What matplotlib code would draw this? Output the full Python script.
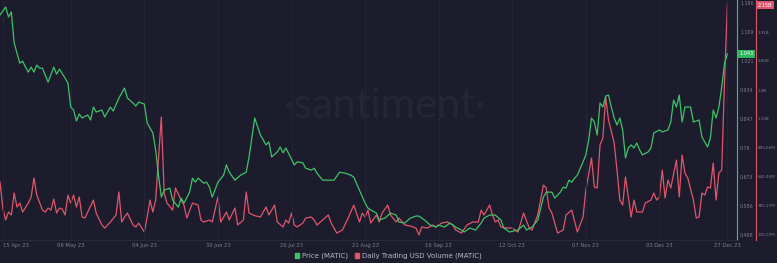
import matplotlib.pyplot as plt
import matplotlib.dates as mdates
from matplotlib.patches import Patch
import pandas as pd

start = pd.Timestamp('2023-04-14')

# price (USD), day offsets from start
price_day = [0, 2, 3, 4, 5, 7, 8, 9, 10, 11, 12, 13, 14, 15, 17, 19, 20, 21, 23, 24,
             25, 26, 27, 28, 29, 31, 32, 33, 34, 36, 37, 39, 40, 42, 44, 45, 47, 48, 49, 51,
             52, 53, 54, 55, 56, 57, 58, 60, 61, 63, 64, 65, 67, 68, 69, 70, 72, 73, 74, 75,
             77, 79, 80, 81, 83, 85, 87, 88, 90, 92, 94, 95, 96, 98, 99, 100, 101, 104, 105, 107,
             108, 110, 111, 112, 114, 117, 118, 120, 122, 124, 125, 127, 129, 130, 131, 133, 134, 136, 138, 140,
             141, 143, 145, 147, 148, 150, 152, 154, 155, 157, 159, 161, 163, 164, 166, 168, 170, 171, 173, 175,
             177, 178, 180, 183, 185, 186, 188, 190, 192, 193, 195, 196, 198, 199, 200, 201, 202, 203, 204, 206,
             207, 208, 209, 210, 211, 212, 213, 214, 215, 216, 217, 218, 219, 220, 221, 222, 223, 224, 225, 226,
             227, 229, 230, 231, 233, 234, 236, 237, 238, 239, 240, 241, 242, 244, 245, 247, 248, 250, 251, 252,
             253, 254, 255, 256, 257]
price = [1.160, 1.184, 1.154, 1.169, 1.076, 1.015, 1.021, 1.003, 0.988, 1.003, 0.988, 1.009, 1.000, 1.000, 0.958, 1.003, 0.982, 0.997, 0.970, 0.955,
         0.883, 0.874, 0.841, 0.862, 0.850, 0.859, 0.844, 0.883, 0.868, 0.874, 0.853, 0.883, 0.871, 0.910, 0.940, 0.910, 0.895, 0.886, 0.898, 0.892,
         0.835, 0.820, 0.805, 0.754, 0.678, 0.612, 0.633, 0.639, 0.603, 0.582, 0.609, 0.594, 0.627, 0.669, 0.657, 0.669, 0.654, 0.657, 0.642, 0.612,
         0.657, 0.678, 0.709, 0.687, 0.663, 0.678, 0.687, 0.733, 0.850, 0.799, 0.769, 0.778, 0.733, 0.748, 0.763, 0.745, 0.760, 0.709, 0.718, 0.715,
         0.699, 0.693, 0.699, 0.684, 0.663, 0.663, 0.663, 0.687, 0.684, 0.678, 0.672, 0.633, 0.594, 0.579, 0.573, 0.564, 0.543, 0.549, 0.564, 0.558,
         0.537, 0.534, 0.549, 0.555, 0.555, 0.543, 0.528, 0.522, 0.528, 0.522, 0.534, 0.522, 0.513, 0.507, 0.519, 0.513, 0.534, 0.549, 0.558, 0.558,
         0.543, 0.519, 0.507, 0.513, 0.528, 0.513, 0.522, 0.543, 0.612, 0.627, 0.627, 0.609, 0.627, 0.642, 0.639, 0.663, 0.657, 0.669, 0.678, 0.718,
         0.739, 0.784, 0.850, 0.838, 0.799, 0.895, 0.883, 0.916, 0.919, 0.883, 0.850, 0.829, 0.850, 0.814, 0.730, 0.760, 0.769, 0.760, 0.775, 0.754,
         0.739, 0.748, 0.760, 0.805, 0.814, 0.808, 0.814, 0.838, 0.904, 0.883, 0.919, 0.838, 0.883, 0.883, 0.838, 0.844, 0.793, 0.763, 0.790, 0.874,
         0.850, 0.883, 0.943, 1.015, 1.043]

# daily trading volume (million USD)
vol_day = [0, 1, 2, 3, 4, 5, 6, 7, 8, 10, 11, 12, 13, 15, 16, 17, 18, 19, 20, 21,
           22, 23, 24, 25, 26, 27, 28, 29, 30, 31, 33, 34, 36, 37, 39, 41, 42, 43, 44, 45,
           47, 48, 49, 51, 52, 53, 54, 55, 57, 58, 59, 61, 62, 64, 65, 66, 68, 70, 71, 72,
           74, 75, 77, 78, 80, 81, 83, 84, 86, 87, 88, 90, 92, 94, 95, 96, 97, 98, 100, 101,
           102, 103, 104, 105, 107, 108, 110, 111, 112, 114, 116, 117, 119, 121, 123, 125, 127, 128, 129, 130,
           131, 133, 134, 135, 137, 138, 140, 141, 143, 145, 147, 148, 149, 151, 153, 154, 156, 158, 160, 161,
           163, 165, 167, 169, 170, 171, 172, 173, 174, 175, 176, 177, 179, 181, 183, 185, 187, 188, 190, 192,
           193, 194, 195, 197, 199, 200, 202, 204, 206, 207, 209, 210, 211, 212, 213, 214, 215, 217, 218, 219,
           220, 221, 222, 223, 224, 225, 227, 228, 230, 231, 232, 233, 234, 235, 236, 237, 239, 240, 241, 242,
           243, 245, 246, 247, 248, 249, 250, 251, 252, 253, 254, 255, 256, 257]
volume_m = [596, 367, 262, 332, 306, 499, 376, 411, 332, 411, 464, 631, 481, 349, 332, 367, 349, 446, 323, 367,
            358, 306, 481, 411, 481, 376, 464, 288, 279, 332, 437, 323, 218, 191, 244, 306, 508, 244, 288, 323,
            218, 200, 235, 156, 288, 437, 332, 437, 1167, 499, 411, 349, 543, 437, 393, 279, 411, 393, 262, 244,
            262, 244, 464, 244, 332, 262, 367, 218, 262, 508, 323, 300, 288, 376, 306, 349, 393, 244, 200, 262,
            235, 323, 218, 200, 235, 279, 288, 262, 218, 262, 306, 235, 147, 174, 279, 393, 244, 323, 288, 349,
            235, 306, 244, 323, 393, 306, 244, 279, 218, 209, 191, 130, 200, 191, 218, 200, 235, 244, 218, 174,
            147, 218, 244, 244, 349, 306, 349, 393, 306, 244, 262, 200, 191, 191, 156, 323, 191, 174, 306, 569,
            543, 367, 323, 147, 174, 306, 349, 156, 288, 525, 807, 552, 543, 921, 983, 1343, 1141, 939, 701, 437,
            393, 640, 464, 288, 437, 332, 332, 411, 437, 499, 437, 464, 701, 455, 613, 543, 789, 464, 833, 675,
            631, 437, 279, 288, 499, 481, 552, 543, 763, 437, 675, 701, 1490, 2152]

price_ticks = [0.498, 0.586, 0.673, 0.76, 0.847, 0.934, 1.021, 1.109, 1.196]
price_tick_labels = ['0.498', '0.586', '0.673', '0.76', '0.847', '0.934', '1.021', '1.109', '1.196']
vol_ticks_m = [130.07, 385.27, 640.46, 895.66, 1150, 1400, 1660, 1910]
vol_tick_labels = ['130.07M', '385.27M', '640.46M', '895.66M', '1.15B', '1.4B', '1.66B', '1.91B']
date_ticks = ['2023-04-15', '2023-05-09', '2023-06-04', '2023-06-30', '2023-07-26', '2023-08-21',
              '2023-09-16', '2023-10-12', '2023-11-07', '2023-12-03', '2023-12-27']

bg = '#1c1c2c'
green = '#3ec368'
red = '#e0566c'
grey = '#7e7e90'

p_dates = start + pd.to_timedelta(price_day, unit='D')
v_dates = start + pd.to_timedelta(vol_day, unit='D')

fig = plt.figure(figsize=(7.77, 2.63), dpi=100, facecolor=bg)
ax = fig.add_axes([0, 23 / 263, 737 / 777, 240 / 263], facecolor=bg)
ax2 = ax.twinx()

ax.text(0.522, 0.56, '\u00b7santiment\u00b7', transform=ax.transAxes, fontsize=30,
        color='#252536', ha='center', va='center', family='Lato', zorder=0)

ax2.plot(v_dates, volume_m, color=red, lw=0.9, zorder=2)
ax.plot(p_dates, price, color=green, lw=0.9, zorder=3)
ax.set_zorder(ax2.get_zorder() + 1)
ax.patch.set_visible(False)
ax2.patch.set_visible(True)
ax2.patch.set_facecolor(bg)

ax.set_xlim(mdates.date2num(start), mdates.date2num(start + pd.Timedelta(days=260.4)))
ax.set_ylim(0.483, 1.205)
ax2.set_ylim(86, 2196)

ax.set_xticks(pd.to_datetime(date_ticks))
ax.set_xticklabels([pd.Timestamp(d).strftime('%d %b %y') for d in date_ticks])
ax.xaxis.grid(True, color='#26263a', lw=0.6)
ax.set_axisbelow(True)
ax.tick_params(axis='x', length=0, pad=2, labelsize=3.8, labelcolor=grey)
ax.get_xticklabels()[0].set_ha('left')

ax.yaxis.tick_right()
ax.set_yticks(price_ticks)
ax.set_yticklabels(price_tick_labels)
ax.tick_params(axis='y', length=0, pad=2.2, labelsize=3.4, labelcolor=grey)
ax2.set_yticks(vol_ticks_m)
ax2.set_yticklabels(vol_tick_labels)
ax2.tick_params(axis='y', length=0, pad=1.2, labelsize=3.0, labelcolor=grey)
ax2.spines['right'].set_position(('outward', 19 * 72 / 100))

for a in (ax, ax2):
    a.spines['top'].set_visible(False)
    a.spines['left'].set_visible(False)
    a.spines['bottom'].set_color('#2a2a3c')
    a.spines['bottom'].set_linewidth(0.6)
ax.spines['right'].set_color(green)
ax.spines['right'].set_linewidth(0.8)
ax2.spines['right'].set_color(red)
ax2.spines['right'].set_linewidth(0.8)

# current value badges
ax.text(1 + 2 / 737, price[-1], f'{price[-1]:.3f}', transform=ax.get_yaxis_transform(),
        fontsize=3.6, color='white', ha='left', va='center', clip_on=False,
        bbox=dict(boxstyle='square,pad=0.3', fc='#2fb55c', ec='none'))
ax2.text(1 + 21 / 737, volume_m[-1], f'{volume_m[-1] / 1000:.2f}B', transform=ax2.get_yaxis_transform(),
         fontsize=3.6, color='white', ha='left', va='center', clip_on=False, zorder=5,
         bbox=dict(boxstyle='square,pad=0.3', fc='#e0566c', ec='none'))

handles = [Patch(color=green, label='Price (MATIC)'),
           Patch(color=red, label='Daily Trading USD Volume (MATIC)')]
fig.legend(handles=handles, loc='lower center', bbox_to_anchor=(388 / 777, -0.01), ncol=2,
           frameon=False, fontsize=5, labelcolor='#b8b8c8', handlelength=0.6, handleheight=0.6,
           handletextpad=0.4, columnspacing=1.0)

fig.savefig('out.png', dpi=100, facecolor=bg)
